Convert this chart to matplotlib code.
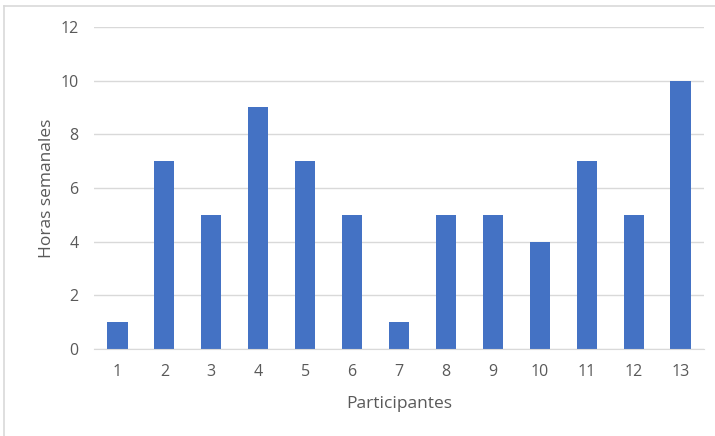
import matplotlib

matplotlib.use("Agg")

import matplotlib.pyplot as plt
from matplotlib.lines import Line2D

participantes = ["1", "2", "3", "4", "5", "6", "7", "8", "9", "10", "11", "12", "13"]
horas_semanales = [1, 7, 5, 9, 7, 5, 1, 5, 5, 4, 7, 5, 10]
y_ticks = [0, 2, 4, 6, 8, 10, 12]

BAR_COLOR = "#4472C4"
TEXT_COLOR = "#595959"
GRID_COLOR = "#D9D9D9"

plt.rcParams["font.family"] = ["Open Sans", "DejaVu Sans"]

fig = plt.figure(figsize=(7.15, 4.36), dpi=100)
ax = fig.add_axes([94 / 715, 1 - 349 / 436, 610 / 715, 322 / 436])

positions = range(len(participantes))
ax.bar(positions, horas_semanales, width=0.43, color=BAR_COLOR, zorder=3)

ax.set_xlim(-0.5, len(participantes) - 0.5)
ax.set_ylim(0, 12)
ax.set_xticks(list(positions), participantes)
ax.set_yticks(y_ticks)
ax.tick_params(axis="both", length=0, colors=TEXT_COLOR, labelsize=11.5)
ax.tick_params(axis="x", pad=11)
ax.tick_params(axis="y", pad=11)
ax.grid(axis="y", color=GRID_COLOR, linewidth=1, zorder=0)

for side in ("top", "right", "left"):
    ax.spines[side].set_visible(False)
ax.spines["bottom"].set_color(GRID_COLOR)
ax.spines["bottom"].set_zorder(4)

ax.set_ylabel("Horas semanales", color=TEXT_COLOR, fontsize=12.5, labelpad=4)
ax.set_xlabel("Participantes", color=TEXT_COLOR, fontsize=12.5, labelpad=11)

# thin chart-area frame along the left and top edges
fig.add_artist(Line2D([4 / 715, 4 / 715], [0, 1 - 6 / 436],
                      transform=fig.transFigure, color=GRID_COLOR, linewidth=1.2))
fig.add_artist(Line2D([4 / 715, 1], [1 - 6 / 436, 1 - 6 / 436],
                      transform=fig.transFigure, color=GRID_COLOR, linewidth=1.2))

fig.savefig("out.png", dpi=100)
